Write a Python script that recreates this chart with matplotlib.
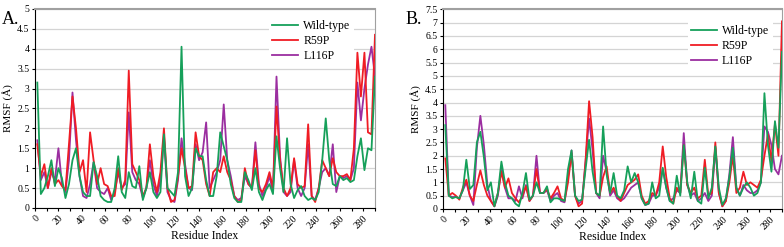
import numpy as np
import matplotlib
matplotlib.use("Agg")
import matplotlib.pyplot as plt
from matplotlib.ticker import MultipleLocator

plt.rcParams['font.family'] = ['Liberation Serif', 'DejaVu Serif']

# residue index (sampled every 3 residues)
residues = list(range(2, 291, 3))

# panel A
a_wt = [3.15, 0.35, 0.5, 0.8, 1.2, 0.55, 1.0, 0.75, 0.25, 0.6,
        1.2, 1.5, 0.8, 0.4, 0.3, 0.3, 1.15, 0.8, 0.3, 0.2,
        0.15, 0.15, 0.5, 1.3, 0.4, 0.25, 0.9, 0.55, 0.5, 1.05,
        0.2, 0.5, 0.9, 0.4, 0.25, 0.4, 1.85, 0.5, 0.4, 0.3,
        0.9, 4.05, 0.8, 0.3, 0.5, 1.5, 1.3, 1.3, 0.7, 0.3,
        0.3, 0.8, 1.9, 1.55, 1.2, 0.6, 0.25, 0.15, 0.15, 0.9,
        0.7, 0.45, 1.0, 0.4, 0.2, 0.45, 0.6, 0.35, 1.8, 1.0,
        0.4, 1.75, 0.6, 0.25, 0.45, 0.55, 0.3, 0.2, 0.25, 0.2,
        0.4, 1.2, 2.25, 1.2, 0.6, 0.55, 0.8, 0.7, 0.75, 0.65,
        0.7, 1.3, 1.75, 0.95, 1.5, 1.45, 3.3]
a_r59p = [1.6, 0.8, 1.1, 0.5, 1.0, 0.6, 0.7, 0.55, 0.45, 1.6,
          2.8, 2.0, 0.9, 1.2, 0.4, 1.9, 1.2, 0.6, 1.0, 0.6,
          0.55, 0.3, 0.3, 1.0, 0.45, 0.7, 3.45, 1.1, 0.9, 0.7,
          0.3, 0.5, 1.6, 0.8, 0.4, 0.9, 2.0, 0.5, 0.15, 0.2,
          0.8, 1.5, 1.0, 0.5, 0.55, 1.9, 1.3, 1.2, 0.6, 0.3,
          0.9, 1.0, 0.9, 1.3, 0.9, 0.7, 0.3, 0.15, 0.2, 1.0,
          0.6, 0.5, 1.45, 0.5, 0.4, 0.6, 0.9, 0.5, 2.55, 1.2,
          0.5, 0.3, 0.5, 1.25, 0.6, 0.5, 0.55, 2.1, 0.3, 0.15,
          0.5, 1.2, 1.0, 0.8, 1.25, 0.9, 0.8, 0.8, 0.85, 0.7,
          1.5, 3.9, 2.8, 3.9, 1.9, 1.85, 4.35]
a_l116p = [1.7, 0.7, 0.9, 0.5, 0.9, 0.7, 1.5, 0.6, 0.4, 1.2,
           2.9, 1.7, 0.8, 0.3, 0.25, 0.6, 1.15, 0.5, 0.4, 0.35,
           0.5, 0.2, 0.4, 0.9, 0.5, 0.6, 2.4, 0.9, 0.7, 0.6,
           0.25, 0.5, 1.2, 0.6, 0.3, 0.7, 1.75, 0.4, 0.2, 0.15,
           0.7, 1.75, 1.1, 0.5, 0.45, 1.6, 1.2, 1.4, 2.15, 0.5,
           0.7, 0.9, 1.2, 2.6, 1.2, 0.8, 0.3, 0.2, 0.25, 0.8,
           0.6, 0.5, 1.65, 0.6, 0.3, 0.5, 0.8, 0.4, 3.3, 1.3,
           0.4, 0.3, 0.4, 1.2, 0.5, 0.3, 0.5, 1.6, 0.3, 0.2,
           0.5, 0.9, 1.0, 0.8, 1.6, 0.4, 0.8, 0.75, 0.8, 0.7,
           1.0, 3.15, 2.2, 3.0, 3.6, 4.05, 3.3]

# panel B
b_wt = [3.15, 0.5, 0.4, 0.45, 0.4, 0.7, 1.85, 0.75, 0.9, 2.5,
        2.9, 1.95, 0.7, 1.0, 0.1, 0.6, 1.78, 1.0, 0.5, 0.4,
        0.2, 0.1, 0.6, 1.35, 0.35, 0.5, 1.0, 0.6, 0.6, 0.85,
        0.25, 0.4, 0.4, 0.35, 0.3, 1.5, 2.2, 0.5, 0.3, 0.35,
        1.5, 2.6, 1.4, 0.6, 0.5, 3.1, 1.3, 0.6, 1.35, 0.5,
        0.4, 0.7, 1.6, 1.0, 1.35, 1.0, 0.4, 0.15, 0.2, 1.0,
        0.4, 0.5, 1.55, 0.8, 0.3, 0.2, 1.25, 0.5, 2.4, 1.0,
        0.4, 1.4, 0.3, 0.2, 1.55, 0.4, 0.8, 2.35, 0.8, 0.15,
        0.4, 1.2, 2.3, 0.8, 0.5, 0.8, 1.0, 0.8, 0.5, 0.6,
        1.0, 4.35, 2.4, 1.4, 3.3, 2.3, 5.9]
b_r59p = [1.9, 0.5, 0.6, 0.5, 0.35, 0.8, 1.1, 0.5, 0.3, 0.9,
          1.45, 0.9, 0.5, 0.3, 0.1, 0.6, 1.4, 0.8, 1.15, 0.6,
          0.4, 0.25, 0.5, 0.85, 0.3, 0.5, 1.5, 0.6, 0.6, 0.75,
          0.4, 0.6, 0.85, 0.4, 0.3, 1.0, 2.1, 0.5, 0.1, 0.2,
          1.8, 4.05, 2.7, 0.6, 0.5, 1.2, 1.6, 0.6, 0.8, 0.5,
          0.3, 0.6, 0.9, 1.0, 1.1, 1.3, 0.5, 0.2, 0.3, 0.6,
          0.5, 1.0, 2.35, 1.2, 0.4, 0.2, 0.8, 0.6, 2.4, 0.9,
          0.6, 0.8, 0.4, 0.5, 1.85, 0.5, 0.6, 2.5, 0.6, 0.1,
          0.3, 1.0, 2.0, 0.6, 0.8, 1.4, 0.9, 1.0, 0.9, 0.8,
          1.1, 2.0, 2.8, 1.8, 3.2, 2.0, 7.05]
b_l116p = [3.9, 0.5, 0.45, 0.45, 0.4, 0.7, 1.0, 0.5, 0.15, 2.3,
           3.5, 2.4, 0.9, 0.3, 0.1, 0.5, 1.55, 0.8, 0.4, 0.4,
           0.3, 0.85, 0.4, 0.9, 0.3, 0.5, 2.0, 0.6, 0.6, 0.7,
           0.3, 0.5, 0.6, 0.3, 0.25, 1.2, 2.2, 0.5, 0.2, 0.3,
           1.8, 3.4, 2.2, 0.6, 0.4, 2.0, 1.4, 0.5, 0.7, 0.4,
           0.3, 0.4, 0.6, 0.8, 0.9, 1.0, 0.4, 0.15, 0.2, 0.5,
           0.5, 0.8, 1.5, 0.8, 0.3, 0.4, 0.7, 0.6, 2.85, 0.9,
           0.5, 0.6, 0.3, 0.4, 0.6, 0.3, 0.5, 2.3, 0.6, 0.1,
           0.3, 1.3, 2.7, 0.8, 0.5, 0.9, 0.7, 0.6, 0.6, 0.7,
           1.0, 3.1, 2.9, 2.4, 1.5, 1.3, 2.0]

labels = ['Wild-type', 'R59P', 'L116P']
colors = ['#16a05a', '#f01c24', '#9b2ea0']

fig = plt.figure(figsize=(7.84, 2.47), dpi=100)
axA = fig.add_axes([0.0446, 0.158, 0.4337, 0.806])
axB = fig.add_axes([0.565, 0.154, 0.4324, 0.808])


def draw(ax, series, ymax, legend_anchor):
    handles = []
    for s, lab, col, z in zip(series, labels, colors, [4, 3, 2]):
        h, = ax.plot(residues, s, color=col, lw=1.3, label=lab, zorder=z)
        handles.append(h)
    ax.set_xlim(0, 290)
    ax.set_ylim(0, ymax)
    ax.yaxis.set_major_locator(MultipleLocator(0.5))
    ax.xaxis.set_major_locator(MultipleLocator(20))
    ax.xaxis.set_minor_locator(MultipleLocator(10))
    ax.grid(axis='y', color='#d4d4d4', lw=0.9, zorder=0)
    ax.set_axisbelow(True)
    ax.tick_params(axis='both', which='both', direction='out', length=2.5,
                   width=0.8, labelsize=7, pad=1.5)
    ax.set_yticklabels(['%g' % v for v in ax.get_yticks()])
    for lbl in ax.get_xticklabels():
        lbl.set_rotation(45)
        lbl.set_ha('right')
        lbl.set_rotation_mode('anchor')
    ax.spines['left'].set_color('black')
    ax.spines['bottom'].set_color('black')
    ax.spines['right'].set_color('#a0a0a0')
    ax.spines['top'].set_color('#a0a0a0')
    ax.spines['top'].set_linewidth(1.5)
    ax.set_ylabel('RMSF (Å)', fontsize=8, labelpad=3)
    ax.set_xlabel('Residue Index', fontsize=8.5, labelpad=0)
    leg = ax.legend(handles=handles, loc='upper right', bbox_to_anchor=legend_anchor,
                    fontsize=8.5, frameon=True, framealpha=1, edgecolor='none',
                    fancybox=False, handlelength=2.2, handletextpad=0.4,
                    labelspacing=0.25, borderpad=0.3)
    leg.set_zorder(5)


draw(axA, [a_wt, a_r59p, a_l116p], 5, (0.955, 0.99))
draw(axB, [b_wt, b_r59p, b_l116p], 7.5, (0.99, 0.97))

fig.text(0.002, 0.955, 'A.', fontsize=13, va='top')
fig.text(0.517, 0.955, 'B.', fontsize=13, va='top')

fig.savefig('out.png', dpi=100)
